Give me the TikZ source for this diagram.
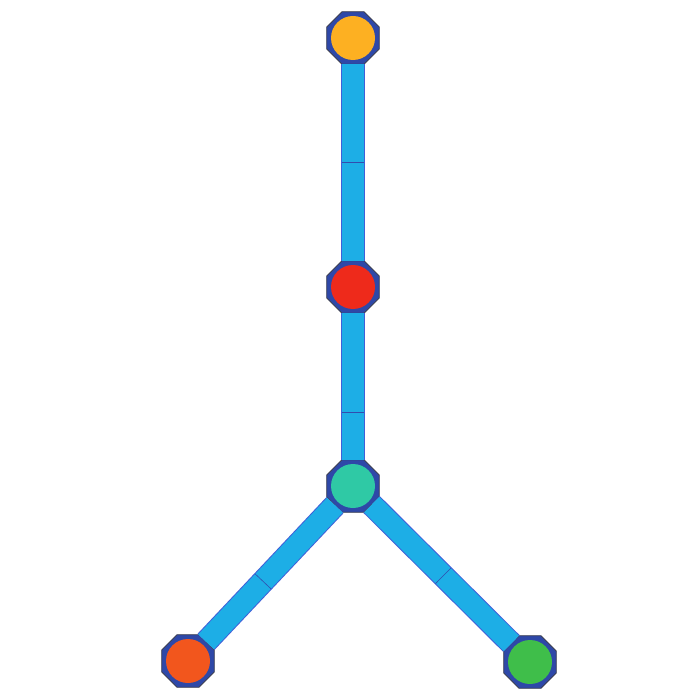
\documentclass[tikz,border=0pt]{standalone}
\usetikzlibrary{shapes.geometric,calc}
\definecolor{jointblue}{HTML}{2E48A8}
\definecolor{jointrim}{HTML}{3A3D50}
\definecolor{barblue}{HTML}{1DAEE6}
\definecolor{baredge}{HTML}{3F5FD8}
\definecolor{dotorange}{HTML}{FDB022}
\definecolor{dotred}{HTML}{EE2A1B}
\definecolor{dotteal}{HTML}{2FC9A5}
\definecolor{dotrust}{HTML}{F2561D}
\definecolor{dotgreen}{HTML}{3FBE4A}

\begin{document}
\begin{tikzpicture}[x=1pt,y=-1pt,
    joint/.style={regular polygon, regular polygon sides=8, minimum size=57pt,
      inner sep=0pt, outer sep=0pt, fill=jointblue, draw=jointrim, line width=0.8pt},
    bar/.style={draw=baredge, line width=1pt, double=barblue, double distance=21.5pt},
    divider/.style={draw=baredge!80!black, line width=0.6pt}]
        \useasboundingbox (0,0) rectangle (700,700);
        % Draw the joints
        \node[joint] (top) at (353,38) {};
        \node[joint] (mid) at (353,287) {};
        \node[joint] (hub) at (353,486) {};
        \node[joint] (lfoot) at (188,661) {};
        \node[joint] (rfoot) at (530,662) {};
        % Draw the bars between them
        \draw[bar] (top) -- (mid);
        \draw[bar] (mid) -- (hub);
        \draw[bar] (hub) -- (lfoot);
        \draw[bar] (hub) -- (rfoot);
        % Seams across the bars
        \coordinate (s1) at ($(top)!0.5!(mid)$);
        \coordinate (s2) at ($(mid)!0.63!(hub)$);
        \coordinate (s3) at ($(hub)!0.545!(lfoot)$);
        \coordinate (s4) at ($(hub)!0.51!(rfoot)$);
        \draw[divider] ($(s1)!11pt!90:(mid)$) -- ($(s1)!11pt!-90:(mid)$);
        \draw[divider] ($(s2)!11pt!90:(hub)$) -- ($(s2)!11pt!-90:(hub)$);
        \draw[divider] ($(s3)!11pt!90:(lfoot)$) -- ($(s3)!11pt!-90:(lfoot)$);
        \draw[divider] ($(s4)!11pt!90:(rfoot)$) -- ($(s4)!11pt!-90:(rfoot)$);
        % Coloured discs inside the joints
        \fill[dotorange] (top) circle[radius=22pt];
        \fill[dotred] (mid) circle[radius=22pt];
        \fill[dotteal] (hub) circle[radius=22pt];
        \fill[dotrust] (lfoot) circle[radius=22pt];
        \fill[dotgreen] (rfoot) circle[radius=22pt];
    \end{tikzpicture}
\end{document}
